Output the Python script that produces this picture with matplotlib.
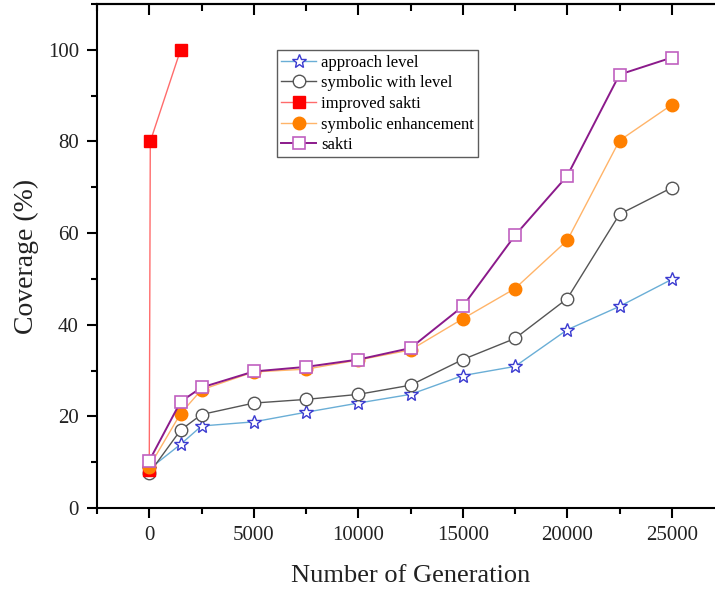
import matplotlib
matplotlib.use('Agg')
import matplotlib.pyplot as plt
from matplotlib.ticker import MultipleLocator

plt.rcParams['font.family'] = ['Liberation Serif', 'DejaVu Serif']

# data
generations = [0, 1500, 2500, 5000, 7500, 10000, 12500, 15000, 17500, 20000, 22500, 25000]
approach_level = [8.5, 13.9, 17.9, 18.8, 20.9, 22.9, 24.8, 28.9, 30.9, 38.9, 44.0, 49.9]
symbolic_with_level = [7.6, 17.0, 20.4, 22.9, 23.7, 24.8, 26.8, 32.4, 37.0, 45.7, 64.1, 69.9]
symbolic_enhancement = [9.0, 20.6, 25.8, 29.7, 30.3, 32.3, 34.5, 41.3, 47.9, 58.4, 80.2, 88.0]
sakti = [10.3, 23.2, 26.3, 29.8, 30.8, 32.4, 34.9, 44.0, 59.5, 72.5, 94.6, 98.3]

improved_gen = [0, 50, 1500]
improved_sakti = [8.2, 80.0, 100.0]

fig = plt.figure(figsize=(7.15, 5.93), dpi=100)
W, H = 715, 593
# right spine falls just outside the picture, as in the reference
ax = fig.add_axes([97 / W, (H - 508) / H, 627 / W, 504 / H])

ax.plot(generations, approach_level, '-', color='#6aaed6', lw=1.0,
        marker='*', ms=10, mfc='white', mec='#3b3bd0', mew=1.0, label='approach level')
ax.plot(generations, symbolic_with_level, '-', color='#555555', lw=1.0,
        marker='o', ms=9, mfc='white', mec='#555555', mew=1.0, label='symbolic with level')
ax.plot(improved_gen, improved_sakti, '-', color='#ff6b6b', lw=1.0,
        marker='s', ms=8, mfc='#ff0000', mec='#ff0000', label='improved sakti')
ax.plot(generations, symbolic_enhancement, '-', color='#ffb469', lw=1.0,
        marker='o', ms=9, mfc='#ff8000', mec='#ff8000', label='symbolic enhancement')
ax.plot(generations, sakti, '-', color='#8b1a8b', lw=1.4,
        marker='s', ms=8, mfc='white', mec='#c060c0', mew=1.2, label='sakti')

ax.set_xlim(-2500, 27500)
ax.set_ylim(0, 110)
ax.xaxis.set_major_locator(MultipleLocator(5000))
ax.xaxis.set_minor_locator(MultipleLocator(2500))
ax.yaxis.set_major_locator(MultipleLocator(20))
ax.yaxis.set_minor_locator(MultipleLocator(10))

for s in ax.spines.values():
    s.set_linewidth(1.5)
ax.tick_params(which='both', direction='out', width=1.5, labelsize=15,
               top=False, right=False, labelcolor='#222222')
ax.tick_params(which='major', length=7, pad=6)
ax.tick_params(which='minor', length=4)

# mirrored ticks on the top edge, pointing inward
top = ax.secondary_xaxis('top')
top.xaxis.set_major_locator(MultipleLocator(5000))
top.xaxis.set_minor_locator(MultipleLocator(2500))
top.tick_params(which='both', direction='in', width=1.5, labeltop=False)
top.tick_params(which='major', length=8)
top.tick_params(which='minor', length=5)
top.spines['top'].set_linewidth(1.5)

ax.set_xlabel('Number of Generation', fontsize=19, labelpad=14, color='#222222')
ax.set_ylabel('Coverage (%)', fontsize=20, labelpad=6, color='#222222')

leg = ax.legend(loc='upper left', bbox_to_anchor=(0.287, 0.908), fontsize=12,
                frameon=True, fancybox=False, edgecolor='#333333',
                borderpad=0.25, labelspacing=0.28, handlelength=2.1,
                handletextpad=0.3, borderaxespad=0)
leg.get_frame().set_linewidth(1.0)

fig.savefig('out.png', dpi=100)
